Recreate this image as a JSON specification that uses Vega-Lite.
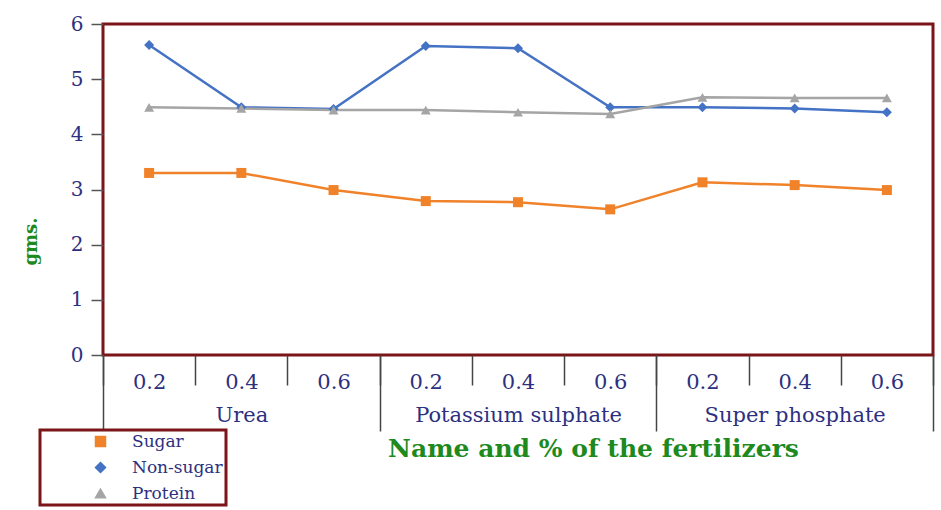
{
  "$schema": "https://vega.github.io/schema/vega-lite/v6.json",
  "width": 830,
  "height": 331,
  "autosize": {"type": "none"},
  "padding": {"left": 103, "top": 24, "right": 8, "bottom": 155},
  "background": "white",
  "config": {
    "view": {"stroke": "#7b1518", "strokeWidth": 3},
    "font": "DejaVu Serif",
    "legend": {"strokeWidth": 3, "labelFont": "DejaVu Serif"}
  },
  "layer": [
    {
      "data": {"values": [
        {"key": "Urea|0.2", "series": "Sugar", "value": 3.30},
        {"key": "Urea|0.4", "series": "Sugar", "value": 3.30},
        {"key": "Urea|0.6", "series": "Sugar", "value": 2.99},
        {"key": "Potassium sulphate|0.2", "series": "Sugar", "value": 2.79},
        {"key": "Potassium sulphate|0.4", "series": "Sugar", "value": 2.77},
        {"key": "Potassium sulphate|0.6", "series": "Sugar", "value": 2.64},
        {"key": "Super phosphate|0.2", "series": "Sugar", "value": 3.13},
        {"key": "Super phosphate|0.4", "series": "Sugar", "value": 3.08},
        {"key": "Super phosphate|0.6", "series": "Sugar", "value": 2.99},
        {"key": "Urea|0.2", "series": "Non-sugar", "value": 5.62},
        {"key": "Urea|0.4", "series": "Non-sugar", "value": 4.49},
        {"key": "Urea|0.6", "series": "Non-sugar", "value": 4.46},
        {"key": "Potassium sulphate|0.2", "series": "Non-sugar", "value": 5.60},
        {"key": "Potassium sulphate|0.4", "series": "Non-sugar", "value": 5.56},
        {"key": "Potassium sulphate|0.6", "series": "Non-sugar", "value": 4.49},
        {"key": "Super phosphate|0.2", "series": "Non-sugar", "value": 4.49},
        {"key": "Super phosphate|0.4", "series": "Non-sugar", "value": 4.47},
        {"key": "Super phosphate|0.6", "series": "Non-sugar", "value": 4.40},
        {"key": "Urea|0.2", "series": "Protein", "value": 4.49},
        {"key": "Urea|0.4", "series": "Protein", "value": 4.47},
        {"key": "Urea|0.6", "series": "Protein", "value": 4.44},
        {"key": "Potassium sulphate|0.2", "series": "Protein", "value": 4.44},
        {"key": "Potassium sulphate|0.4", "series": "Protein", "value": 4.40},
        {"key": "Potassium sulphate|0.6", "series": "Protein", "value": 4.37},
        {"key": "Super phosphate|0.2", "series": "Protein", "value": 4.67},
        {"key": "Super phosphate|0.4", "series": "Protein", "value": 4.66},
        {"key": "Super phosphate|0.6", "series": "Protein", "value": 4.66}
      ]},
      "encoding": {
        "x": {
          "field": "key", "type": "nominal", "bandPosition": 0.5,
          "scale": {"type": "band", "paddingInner": 0, "paddingOuter": 0,
            "domain": ["Urea|0.2","Urea|0.4","Urea|0.6","Potassium sulphate|0.2","Potassium sulphate|0.4","Potassium sulphate|0.6","Super phosphate|0.2","Super phosphate|0.4","Super phosphate|0.6"]},
          "axis": {
            "orient": "bottom", "title": null, "labelAngle": 0,
            "labelExpr": "split(datum.value, '|')[1]",
            "tickBand": "extent", "tickSize": 30, "tickColor": "#444", "tickWidth": 1.5,
            "domain": false, "labelPadding": -14, "labelFontSize": 21,
            "labelColor": "#2d3080", "labelFont": "DejaVu Serif"
          }
        },
        "y": {
          "field": "value", "type": "quantitative",
          "scale": {"domain": [0, 6]},
          "axis": {
            "values": [0,1,2,3,4,5,6], "grid": false, "domain": false,
            "tickSize": 12, "tickColor": "#555", "tickWidth": 1.5,
            "labelPadding": 8, "labelFontSize": 20, "labelColor": "#2d3080",
            "title": "gms.", "titleColor": "#1e8a1e", "titleFontSize": 18,
            "titleFontWeight": "bold", "titleFont": "DejaVu Serif",
            "titleX": -63, "titleY": 217
          }
        },
        "color": {
          "field": "series", "type": "nominal",
          "scale": {"domain": ["Sugar","Non-sugar","Protein"], "range": ["#f0822a","#4472c4","#a5a5a5"]},
          "legend": {
            "title": null, "orient": "none", "legendX": -63, "legendY": 406,
            "strokeColor": "#7b1518", "fillColor": "white", "padding": 3,
            "symbolSize": 100, "symbolOffset": 49, "labelOffset": 23, "rowPadding": 8,
            "labelFontSize": 17, "labelColor": "#2d3080", "labelFont": "DejaVu Serif",
            "labelLimit": 0, "symbolOpacity": 1
          }
        }
      },
      "layer": [
        {"mark": {"type": "line", "strokeWidth": 2.5}},
        {
          "mark": {"type": "point", "filled": true, "opacity": 1, "size": 100},
          "encoding": {
            "shape": {"field": "series", "type": "nominal",
              "scale": {"domain": ["Sugar","Non-sugar","Protein"], "range": ["square","diamond","triangle-up"]},
              "legend": null}
          }
        }
      ]
    },
    {
      "data": {"values": [
        {"fert": "Urea"}, {"fert": "Potassium sulphate"}, {"fert": "Super phosphate"}
      ]},
      "mark": {"type": "text", "opacity": 0},
      "encoding": {
        "x": {
          "field": "fert", "type": "nominal",
          "scale": {"type": "band", "paddingInner": 0, "paddingOuter": 0,
            "domain": ["Urea","Potassium sulphate","Super phosphate"]},
          "axis": {
            "orient": "bottom", "labelAngle": 0, "domain": false,
            "tickBand": "extent", "tickSize": 76, "tickColor": "#444", "tickWidth": 1.5,
            "labelPadding": -27, "labelFontSize": 21, "labelColor": "#2d3080",
            "labelFont": "DejaVu Serif", "labelLimit": 0,
            "title": "Name  and % of the fertilizers", "titleColor": "#1e8a1e",
            "titleFontSize": 25, "titleFontWeight": "bold", "titleFont": "DejaVu Serif",
            "titleX": 490, "titleY": 93, "titleBaseline": "middle"
          }
        },
        "text": {"field": "fert"}
      }
    }
  ],
  "resolve": {"scale": {"x": "independent"}, "axis": {"x": "independent"}}
}
